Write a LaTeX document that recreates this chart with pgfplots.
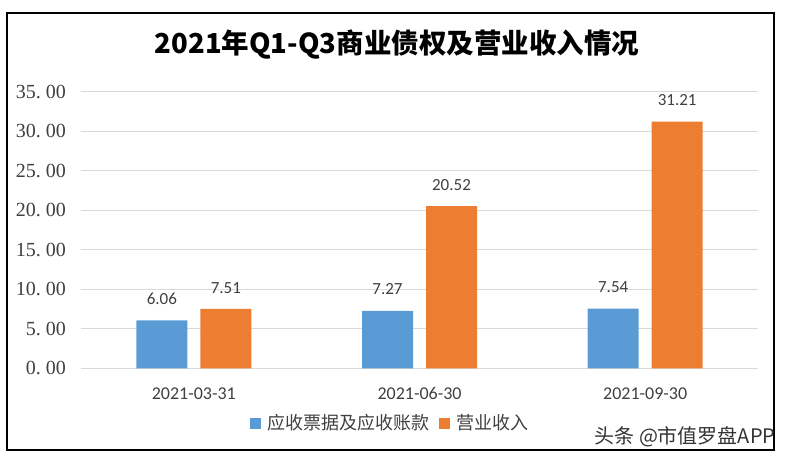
\documentclass[border=0pt]{standalone}
\usepackage{fontspec}
\setmainfont{Liberation Serif}
\newfontfamily\cjk{Noto Sans CJK SC}
\newfontfamily\carl{Carlito}
\usepackage{pgfplots}
\pgfplotsset{compat=1.18}
\definecolor{xlblue}{HTML}{5B9BD5}
\definecolor{xlorange}{HTML}{ED7D31}
\definecolor{gridgray}{HTML}{D9D9D9}
\definecolor{txtgray}{HTML}{404040}

\begin{document}
\begin{tikzpicture}
\useasboundingbox (0bp,0bp) rectangle (792bp,462bp);
\draw[line width=2.5bp] (7bp,449bp) rectangle (774bp,12bp);
\node[font=\cjk\bfseries\fontsize{27.5bp}{30bp}\selectfont, text=black] at (397bp,417bp) {2021年Q1-Q3商业债权及营业收入情况};
\begin{axis}[
  at={(81bp,93.7bp)}, anchor=south west,
  scale only axis, width=677bp, height=276.6bp,
  xmin=-0.5, xmax=2.5, ymin=0, ymax=35,
  ybar=13bp, bar width=51bp,
  axis line style={draw=none},
  major tick length=0pt,
  ymajorgrids, grid style={gridgray, line width=1.2bp},
  xtick={0,1,2}, xticklabels={2021-03-31,2021-06-30,2021-09-30},
  ytick={0,5,...,35},
  yticklabels={0.\hspace{0.25em}00,5.\hspace{0.25em}00,10.\hspace{0.25em}00,15.\hspace{0.25em}00,20.\hspace{0.25em}00,25.\hspace{0.25em}00,30.\hspace{0.25em}00,35.\hspace{0.25em}00},
  x tick label style={font=\carl\fontsize{18bp}{20bp}\selectfont, text=txtgray, inner sep=0pt, anchor=north, yshift=-19bp},
  y tick label style={font=\fontsize{20bp}{22bp}\selectfont, text=txtgray, inner sep=0pt, anchor=east, xshift=-15bp},
  nodes near coords={\pgfmathprintnumber[fixed,fixed zerofill,precision=2,assume math mode=true]{\pgfplotspointmeta}},
  every node near coord/.append style={font=\carl\fontsize{17bp}{19bp}\selectfont, text=txtgray, inner sep=0pt, anchor=south, yshift=15.6bp},
  legend columns=2,
  legend image code/.code={\fill[#1] (0bp,-5.5bp) rectangle (11bp,5.5bp); \path (15bp,0bp);},
  legend style={at={(0.457,-0.198)}, anchor=center, draw=none, fill=none,
    font=\cjk\fontsize{18bp}{20bp}\selectfont, text=txtgray,
    /tikz/every even column/.append style={column sep=8bp}},
]
\addplot[fill=xlblue, draw=none] coordinates {(0,6.06) (1,7.27) (2,7.54)};
\addlegendentry{应收票据及应收账款}
\addplot[fill=xlorange, draw=none] coordinates {(0,7.51) (1,20.52) (2,31.21)};
\addlegendentry{营业收入}
\end{axis}
\node[font=\cjk\fontsize{20bp}{22bp}\selectfont, text=black!80] at (685bp,25bp) {头条 @市值罗盘APP};
\end{tikzpicture}
\end{document}
